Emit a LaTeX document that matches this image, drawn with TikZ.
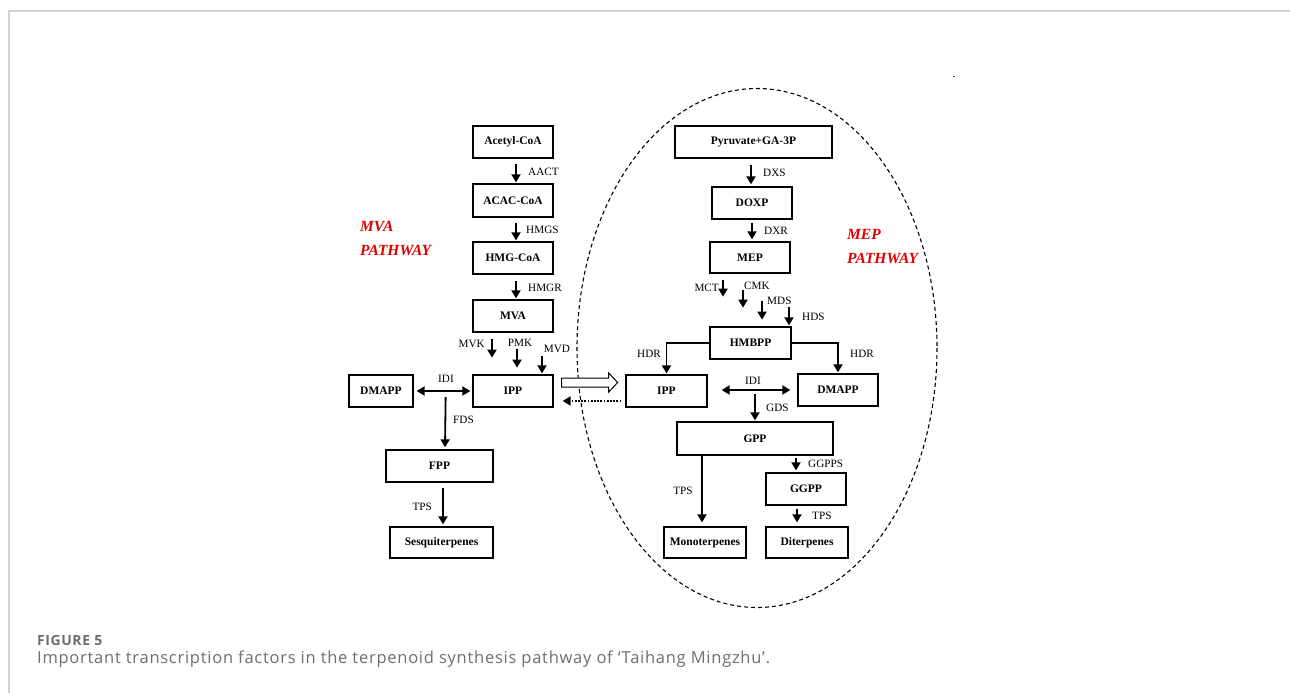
\documentclass[tikz,border=0pt]{standalone}
\usepackage{fontspec}
\setmainfont{Liberation Serif}
\newfontfamily\capfontwide[LetterSpace=4.5]{Open Sans}
\newfontfamily\capfontlab[LetterSpace=4]{Open Sans}
\usetikzlibrary{arrows.meta,calc}
\definecolor{framegray}{HTML}{D2D2D2}
\definecolor{capgray}{HTML}{6E6E6E}
\definecolor{pwred}{HTML}{E00000}
\begin{document}
\begin{tikzpicture}[x=1pt,y=-1pt,
  box/.style={draw, line width=1.3pt, inner sep=0pt, minimum height=32pt, font=\bfseries\fontsize{11.5}{13}\selectfont},
  arr/.style={line width=1.8pt, -{Triangle[width=9pt,length=8pt]}},
  darr/.style={line width=1.8pt, {Triangle[width=9pt,length=8pt]}-{Triangle[width=9pt,length=8pt]}},
  lab/.style={inner sep=0pt, font=\fontsize{11.2}{12}\selectfont},
  pwlab/.style={inner sep=0pt, anchor=west, text=pwred, font=\bfseries\itshape\fontsize{15.5}{17}\selectfont}]
\useasboundingbox (0,0) rectangle (1290,693);
\fill[white] (0,0) rectangle (1290,693);
% frame
\draw[framegray, line width=1.5pt] (1290,11) -- (9,11) -- (9,693);
\fill[black!70] (952.5,75.5) rectangle (954.5,77);

% MEP ellipse
\draw[line width=1.1pt, dash pattern=on 4pt off 3pt] (757,348) ellipse [x radius=180, y radius=259.5];

% MVA nodes
\node[box, minimum width=80pt] (acetyl) at (513,142) {Acetyl-CoA};
\node[box, minimum width=80pt, minimum height=33pt] (acac) at (513,200.5) {ACAC-CoA};
\node[box, minimum width=80pt] (hmgcoa) at (513,258) {HMG-CoA};
\node[box, minimum width=80pt] (mva) at (513,316) {MVA};
\node[box, minimum width=80pt] (ippL) at (513,391) {IPP};
\node[box, minimum width=64pt] (dmappL) at (381,391) {DMAPP};
\node[box, minimum width=107pt] (fpp) at (439.5,466) {FPP};
\node[box, minimum width=103pt, minimum height=31pt] (sesq) at (441.5,542.5) {Sesquiterpenes};

% MEP nodes
\node[box, minimum width=157pt] (pyr) at (753.5,142) {Pyruvate+GA-3P};
\node[box, minimum width=80pt] (doxp) at (752,203) {DOXP};
\node[box, minimum width=80pt, minimum height=31pt] (mep) at (750,257.5) {MEP};
\node[box, minimum width=81pt] (hmbpp) at (750.5,343) {HMBPP};
\node[box, minimum width=81pt] (ippR) at (666.5,391) {IPP};
\node[box, minimum width=80pt] (dmappR) at (838,390) {DMAPP};
\node[box, minimum width=156pt, minimum height=33pt] (gpp) at (755,438.5) {GPP};
\node[box, minimum width=80pt] (ggpp) at (806,489) {GGPP};
\node[box, minimum width=82pt, minimum height=31pt] (mono) at (705,542.5) {Monoterpenes};
\node[box, minimum width=82pt, minimum height=31pt] (di) at (807,542.5) {Diterpenes};

% pathway labels
\node[pwlab] (mvaA) at (360,226) {MVA};
\node[pwlab] (mvaB) at (360,250) {PATHWAY};
\node[pwlab] (mepA) at (847,234) {MEP};
\node[pwlab] (mepB) at (847,258) {PATHWAY};

% MVA arrows
\draw[arr] ($(acetyl.south)+(3,5)$) -- ($(acac.north)+(3,-1)$);
\draw[arr] ($(acac.south)+(3,5)$) -- ($(hmgcoa.north)+(3,-1)$);
\draw[arr] ($(hmgcoa.south)+(3,6)$) -- ($(mva.north)+(3,-1)$);
\draw[arr] ($(mva.south)+(-21,6)$) -- ($(mva.south)+(-21,25)$);
\draw[arr] ($(mva.south)+(4,16)$) -- ($(mva.south)+(4,35)$);
\draw[arr] ($(mva.south)+(29,23)$) -- ($(ippL.north)+(29,-1)$);
\draw[darr] ($(dmappL.east)+(3,0)$) -- ($(ippL.west)+(-2,0)$);
\draw[arr] ($(dmappL.east)+(32,6)$) -- ($(fpp.north)+(5.5,-2)$);
\draw[arr] ($(fpp.south)+(3.5,5)$) -- ($(sesq.north)+(1.5,-2)$);

\node[lab, anchor=west] (l1) at (528,172) {AACT};
\node[lab, anchor=west] (l2) at (526,230) {HMGS};
\node[lab, anchor=west] (l3) at (528,288) {HMGR};
\node[lab, anchor=east] (l4) at (485,344) {MVK};
\node[lab] (l5) at (520,343) {PMK};
\node[lab] (l6) at (557,349) {MVD};
\node[lab] (l7) at (446,379) {IDI};
\node[lab, anchor=west] (l8) at (453,420) {FDS};
\node[lab, anchor=east] (l9) at (432,507) {TPS};

% transfer arrows
\draw[line width=1pt, fill=white] ($(ippL.east)+(8,-13)$) -- ++(47,0) -- ++(0,-5) -- ++(9,9.5) -- ++(-9,9.5) -- ++(0,-5) -- ++(-47,0) -- cycle;
\draw[line width=1.8pt, dash pattern=on 1.8pt off 1.4pt, -{Triangle[width=9pt,length=8pt]}] ($(ippR.west)+(-4,10)$) -- ($(ippL.east)+(9,10)$);

% MEP arrows
\draw[arr] ($(pyr.south)+(-2.5,6)$) -- ($(doxp.north)+(-1,-2)$);
\draw[arr] ($(doxp.south)+(0,3)$) -- ($(mep.north)+(2,-2)$);
\draw[arr] ($(mep.south)+(-27,6)$) -- ($(mep.south)+(-27,23)$);
\draw[arr] ($(mep.south)+(-7,16)$) -- ($(mep.south)+(-7,34)$);
\draw[arr] ($(mep.south)+(12,27)$) -- ($(mep.south)+(12,46)$);
\draw[arr] ($(hmbpp.north)+(38.5,-19)$) -- ($(hmbpp.north)+(38.5,-1)$);
\draw[arr] (hmbpp.west) -| ($(ippR.north)+(0,-1)$);
\draw[arr] (hmbpp.east) -| ($(dmappR.north)+(0,-1)$);
\draw[darr] ($(ippR.east)+(14,-1)$) -- ($(dmappR.west)+(-7,0)$);
\draw[arr] ($(gpp.north)+(0,-27)$) -- ($(gpp.north)+(0,-1)$);
\draw[arr] ($(gpp.south)+(-53,0)$) -- ($(mono.north)+(-3,-4)$);
\draw[arr] ($(gpp.south)+(41,2)$) -- ($(ggpp.north)+(-10,-2)$);
\draw[arr] ($(ggpp.south)+(-9,3)$) -- ($(di.north)+(-10,-4)$);

\node[lab, anchor=west] (r1) at (763,173) {DXS};
\node[lab, anchor=west] (r2) at (764,231) {DXR};
\node[lab, anchor=east] (r3) at (719,288) {MCT};
\node[lab, anchor=west] (r4) at (744,286) {CMK};
\node[lab, anchor=west] (r5) at (767,301) {MDS};
\node[lab, anchor=west] (r6) at (802,317) {HDS};
\node[lab] (r7) at (649,354) {HDR};
\node[lab] (r8) at (862,354) {HDR};
\node[lab] (r9) at (753,381) {IDI};
\node[lab, anchor=west] (r10) at (766,408) {GDS};
\node[lab] (r11) at (683,491) {TPS};
\node[lab, anchor=west] (r12) at (808,464) {GGPPS};
\node[lab, anchor=west] (r13) at (812,516) {TPS};

% caption
\node[anchor=base west, inner sep=0pt, text=capgray, font=\capfontlab\bfseries\fontsize{14}{15}\selectfont] (figno) at (37,645) {FIGURE 5};
\node[anchor=base west, inner sep=0pt, text=capgray, font=\capfontwide\fontsize{16.5}{18}\selectfont] (cap) at (37,663) {Important transcription factors in the terpenoid synthesis pathway of ‘Taihang Mingzhu’.};
\end{tikzpicture}
\end{document}
